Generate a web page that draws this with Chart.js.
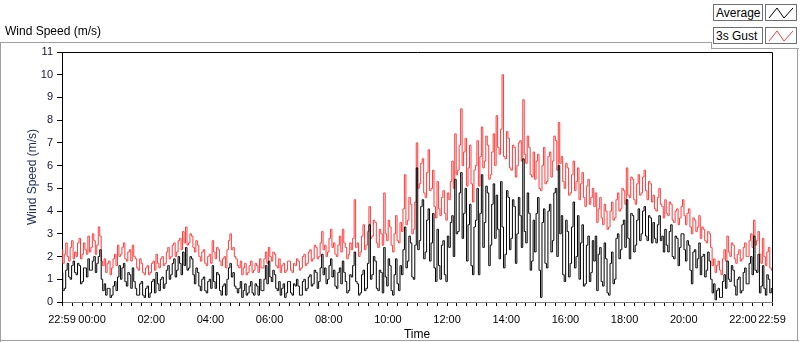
<!DOCTYPE html>
<html>
<head>
<meta charset="utf-8">
<script src="https://cdn.jsdelivr.net/npm/chart.js@4/dist/chart.umd.min.js"></script>
<style>
  body { margin: 0; background: #fff; font-family: "Liberation Sans", Arial, sans-serif; }
  #wrap { position: relative; width: 800px; height: 342px; overflow: hidden; }
  #c { position: absolute; left: 0; top: 0; }
  .ln { position: absolute; background: #a0a0a0; }
  #head { position: absolute; left: 5px; top: 24px; font-size: 12px; color: #000; }
  .lg { position: absolute; height: 17px; border: 1px solid #6e6e6e; background: #fff;
        font-size: 12px; line-height: 17px; padding: 0 2px; box-sizing: border-box; }
  .ic { position: absolute; width: 32px; height: 17px; border: 1px solid #6e6e6e; background: #fff; box-sizing: border-box; }
</style>
</head>
<body>
<div id="wrap">
  <canvas id="c" width="800" height="342"></canvas>
  <div id="head">Wind Speed (m/s)</div>
  <div class="ln" style="left:0;top:42px;width:712px;height:1px"></div>
  <div class="ln" style="left:711px;top:42px;width:1px;height:7px"></div>
  <div class="ln" style="left:711px;top:48px;width:88px;height:1px"></div>
  <div class="ln" style="left:0;top:42px;width:1px;height:300px"></div>
  <div class="ln" style="left:0;top:340px;width:799px;height:1px"></div>
  <div class="ln" style="left:797px;top:48px;width:1px;height:293px"></div>
  <div class="lg" style="left:713px;top:4px;width:50px">Average</div>
  <div class="ic" style="left:765px;top:4px">
    <svg width="30" height="15"><polyline points="3,13 11,3 18,13 27,3" fill="none" stroke="#000" stroke-width="1"/></svg>
  </div>
  <div class="lg" style="left:713px;top:27px;width:50px">3s Gust</div>
  <div class="ic" style="left:765px;top:27px">
    <svg width="30" height="15"><polyline points="3,13 11,3 18,13 27,3" fill="none" stroke="#ff3c3c" stroke-width="1"/></svg>
  </div>
</div>
<script>
// samples every 3 minutes, starting 22:59 (one row = 2 hours)
const sampleStepMin = 3;

const gustSpeed = [
  2.3,1.7,2.1,2.6,2.0,1.8,2.4,2.7,1.9,2.2,2.0,2.6,2.8,1.9,2.1,2.6,2.3,2.1,2.9,2.2,2.4,3.0,2.7,2.1,2.5,3.3,2.9,1.8,1.6,1.9,1.3,1.7,1.8,1.2,1.5,1.9,2.1,1.6,2.5,2.0,
  2.1,2.4,2.6,1.9,1.8,2.2,2.3,1.8,2.5,2.0,1.9,1.5,1.4,1.9,1.7,1.3,1.2,1.5,1.6,1.2,1.3,1.7,1.8,1.4,2.1,1.7,1.5,1.9,2.0,1.6,1.7,2.2,2.4,1.9,2.0,2.5,2.6,2.0,2.2,2.7,
  2.8,2.3,3.1,2.6,3.3,2.5,2.6,3.0,2.9,2.4,2.2,2.7,2.5,2.0,1.8,2.2,2.3,1.7,1.6,2.0,2.1,1.7,2.7,2.2,1.9,2.4,2.3,1.8,1.6,1.9,2.0,1.5,2.3,2.7,3.0,2.3,2.4,2.0,1.9,1.6,
  1.5,1.8,1.2,1.5,1.7,1.2,1.3,1.6,1.8,1.3,1.4,1.7,1.6,1.3,1.9,1.5,1.5,1.9,2.2,1.7,2.4,2.0,1.8,2.2,2.1,1.6,1.5,1.9,1.3,1.6,1.7,1.3,1.4,1.8,1.8,1.4,1.3,1.7,1.6,1.9,
  1.8,1.4,1.5,2.0,2.1,1.6,1.7,2.2,2.3,1.8,1.9,2.5,2.4,1.9,2.0,2.6,3.1,2.3,2.5,2.0,2.2,2.8,3.2,2.4,2.6,2.1,2.0,2.5,2.9,2.2,3.2,2.6,2.4,1.9,2.1,2.6,2.3,2.8,4.5,2.4,
  2.6,2.0,2.2,2.9,3.4,2.3,2.5,3.1,4.2,2.8,2.9,3.6,3.5,2.6,2.4,3.2,3.0,2.5,4.8,3.0,2.7,3.6,3.3,2.5,2.2,3.0,3.8,2.7,2.6,3.5,3.1,4.1,5.6,3.4,3.6,4.6,4.3,3.0,3.2,4.4,
  7.0,5.0,5.2,6.1,6.3,4.8,4.6,5.7,6.7,4.9,5.0,5.8,4.2,3.7,5.3,4.1,3.8,4.6,4.9,3.9,3.6,4.8,4.5,5.3,6.2,5.0,7.4,5.6,5.8,6.9,8.5,6.0,6.6,7.2,5.1,5.9,6.9,5.2,4.4,5.8,
  6.0,7.1,5.1,6.4,7.7,5.9,6.2,7.3,6.9,5.4,5.6,6.6,7.4,6.0,8.2,6.8,6.5,7.6,10.0,6.4,6.3,7.5,7.2,5.9,5.8,6.9,6.8,5.5,6.0,7.0,7.1,6.2,8.9,6.5,6.1,7.3,6.8,5.6,5.5,6.6,
  5.4,6.2,6.5,5.0,4.9,6.0,6.8,5.2,5.3,6.4,6.6,5.5,6.2,7.3,7.1,5.8,7.9,6.1,6.4,5.3,5.0,6.1,5.9,4.7,4.8,5.6,6.2,4.9,5.3,5.9,4.5,5.2,5.7,4.6,4.2,5.1,5.4,4.3,4.6,5.0,
  4.2,4.8,3.5,4.1,4.6,3.7,3.4,4.3,4.0,3.2,3.3,4.0,4.4,3.6,3.7,4.5,4.8,4.0,4.1,5.0,4.9,4.3,5.9,4.7,4.6,5.5,5.4,4.5,4.3,5.2,5.6,4.7,4.8,5.5,5.8,4.9,4.5,5.3,5.2,4.4,
  4.7,4.1,4.0,4.6,5.0,4.3,4.2,3.7,4.5,3.9,3.8,4.4,4.3,3.6,3.5,4.0,4.1,3.4,3.7,4.2,4.5,3.8,3.4,3.9,4.1,3.3,3.0,3.7,3.6,3.1,3.3,3.8,2.8,3.3,3.2,2.7,2.6,3.1,3.0,2.4,
  1.6,1.9,1.3,1.6,1.8,1.4,1.2,1.9,2.3,1.8,2.9,2.2,2.0,2.6,2.5,1.9,1.7,2.1,2.3,1.8,1.9,2.4,2.6,2.0,2.0,2.7,3.0,2.4,3.6,2.5,2.7,3.1,2.1,1.7,2.8,2.0,1.6,2.2,2.4,1.5,
  1.4
];

const avgSpeed = [
  1.3,0.5,0.6,1.4,1.7,1.1,1.0,1.6,1.8,1.3,1.2,1.7,1.6,0.8,0.9,1.5,1.5,1.1,1.9,1.4,1.4,1.8,2.0,1.3,1.7,2.0,2.3,1.0,0.5,0.8,0.3,0.6,0.6,0.2,0.3,0.7,0.9,0.5,1.1,1.6,
  1.0,1.5,1.7,0.9,0.7,1.3,1.2,0.6,1.5,0.9,0.6,0.3,0.3,0.8,0.9,0.3,0.2,0.6,0.7,0.2,0.4,0.9,1.0,0.4,1.3,0.8,0.5,1.0,1.1,0.6,0.8,1.4,1.6,1.0,1.2,1.7,1.9,1.1,1.4,2.0,
  1.7,1.2,2.2,1.6,2.4,1.4,1.5,2.0,1.9,1.2,0.8,1.5,1.3,0.7,0.5,1.0,1.1,0.5,0.4,0.9,1.0,0.6,1.6,0.9,0.6,1.3,1.2,0.5,0.3,0.7,0.8,0.3,1.0,1.5,1.7,1.1,1.3,0.7,0.6,0.4,
  0.6,0.9,0.2,0.5,0.8,0.3,0.4,0.7,0.9,0.4,0.3,0.8,0.7,0.3,1.0,0.5,0.5,1.0,1.6,0.8,1.8,1.1,0.9,1.4,1.2,0.6,0.5,0.9,0.3,0.6,0.8,0.2,0.4,0.9,0.9,0.4,0.3,0.8,0.7,1.0,
  0.7,0.3,0.3,0.9,1.0,0.5,0.6,1.1,1.2,0.7,0.8,1.4,1.3,0.6,0.9,1.5,2.1,1.2,1.5,0.8,1.0,1.6,1.9,1.1,1.4,0.7,0.6,1.3,1.5,0.8,1.8,1.3,0.9,0.4,0.5,1.2,1.1,1.6,2.2,0.9,
  0.8,0.3,0.4,1.2,1.4,0.5,0.6,1.7,3.4,1.0,1.2,2.0,1.8,0.6,0.5,1.4,1.3,0.4,2.4,1.1,0.7,1.9,1.6,0.5,0.3,1.2,1.9,0.8,0.5,1.6,1.2,2.3,3.3,1.5,1.8,2.9,2.6,1.1,1.0,2.5,
  5.9,2.3,2.7,4.2,4.5,1.9,2.2,3.6,4.1,1.8,2.6,3.9,1.5,0.9,3.2,1.6,1.0,2.5,2.7,1.2,0.9,2.9,2.4,3.5,3.8,2.0,5.4,3.0,3.1,4.8,5.7,2.8,3.9,5.0,1.8,3.4,4.3,1.6,1.2,3.3,
  3.6,5.0,1.2,3.9,5.6,2.4,3.5,5.1,4.8,1.6,2.5,4.3,5.2,2.8,4.7,3.2,1.9,5.3,3.3,1.5,2.1,4.9,4.6,2.3,2.8,4.5,4.2,1.7,3.0,4.6,3.8,2.4,6.3,3.1,2.6,4.8,3.9,1.4,1.8,3.6,
  2.2,3.9,4.6,1.4,0.2,3.5,4.1,1.7,1.5,4.0,4.3,2.2,2.7,4.8,5.0,2.0,6.0,3.0,3.8,1.2,0.9,3.6,3.1,1.1,1.7,3.3,4.4,1.5,2.0,3.8,1.0,2.6,3.4,0.7,0.8,2.5,2.9,0.9,1.3,2.7,
  1.8,2.9,0.5,2.1,2.4,0.9,0.7,2.6,1.9,0.4,0.3,1.7,2.2,0.8,1.0,2.8,3.0,1.9,2.3,3.4,3.6,2.4,4.5,2.8,1.9,3.9,3.8,2.2,2.5,3.6,4.1,2.7,3.0,4.0,4.2,2.9,2.7,3.8,3.7,2.6,
  3.5,2.8,2.6,3.4,3.8,2.7,2.9,2.2,3.2,2.5,2.2,3.1,3.4,2.0,1.9,2.9,2.8,1.6,2.4,3.0,3.0,2.3,1.8,2.7,2.5,1.4,0.8,2.2,2.3,1.5,1.9,2.6,1.2,2.0,2.1,1.1,1.4,2.2,1.8,1.0,
  0.4,0.8,0.1,0.5,0.6,0.2,0.2,0.9,1.2,0.6,1.8,1.0,0.9,1.6,1.4,0.7,0.3,1.0,1.1,0.4,0.5,1.3,1.5,0.8,0.8,1.7,2.0,1.2,2.9,1.4,1.3,2.1,0.4,0.7,1.6,0.6,0.3,1.2,1.0,0.4,
  0.6
];

// x axis: minutes since 22:59
const tickMinutes = [0, 61, 181, 301, 421, 541, 661, 781, 901, 1021, 1141, 1261, 1381, 1440];
const tickLabels = ["22:59", "00:00", "02:00", "04:00", "06:00", "08:00", "10:00", "12:00",
                    "14:00", "16:00", "18:00", "20:00", "22:00", "22:59"];
const minorStepMin = 20;

const toPoints = (arr) => arr.map((v, i) => ({ x: i * sampleStepMin, y: v }));

const allTicks = [0];
for (let m = 1; m <= 1440; m += minorStepMin) allTicks.push(m);
tickMinutes.forEach(m => { if (!allTicks.includes(m)) allTicks.push(m); });
allTicks.sort((a, b) => a - b);

const frameBorder = {
  id: "frameBorder",
  afterDraw(chart) {
    const { ctx, chartArea } = chart;
    ctx.save();
    ctx.strokeStyle = "#000";
    ctx.lineWidth = 1;
    ctx.beginPath();
    ctx.moveTo(chartArea.left, chartArea.top + 0.5);
    ctx.lineTo(chartArea.right + 0.5, chartArea.top + 0.5);
    ctx.lineTo(chartArea.right + 0.5, chartArea.bottom);
    ctx.stroke();
    ctx.restore();
  }
};

new Chart(document.getElementById("c"), {
  type: "line",
  data: {
    datasets: [
      {
        label: "Average",
        data: toPoints(avgSpeed),
        borderColor: "#000000",
        borderWidth: 1,
        pointRadius: 0,
        stepped: "middle"
      },
      {
        label: "3s Gust",
        data: toPoints(gustSpeed),
        borderColor: "#ff3c3c",
        borderWidth: 1,
        pointRadius: 0,
        stepped: "middle"
      }
    ]
  },
  options: {
    responsive: false,
    animation: false,
    layout: { padding: { left: 21, top: 52, right: 28, bottom: 0 } },
    plugins: {
      legend: { display: false },
      tooltip: { enabled: false }
    },
    scales: {
      x: {
        type: "linear",
        min: 0,
        max: 1440,
        afterFit: (s) => { s.height = 40; },
        afterBuildTicks: (s) => { s.ticks = allTicks.map(v => ({ value: v })); },
        ticks: {
          autoSkip: false,
          maxRotation: 0,
          minRotation: 0,
          padding: 7,
          color: "#000",
          font: { family: "Liberation Sans", size: 11 },
          callback: (v) => {
            const k = tickMinutes.indexOf(v);
            return k >= 0 ? tickLabels[k] : "";
          }
        },
        grid: { drawOnChartArea: false, tickLength: 4, color: "#000" },
        border: { color: "#808080" },
        title: {
          display: true,
          text: "Time",
          color: "#000",
          font: { family: "Liberation Sans", size: 12 },
          padding: { top: 0, bottom: 0 }
        }
      },
      y: {
        min: 0,
        max: 11,
        afterFit: (s) => { s.width = 41; },
        ticks: {
          stepSize: 1,
          padding: 4,
          color: "#14143c",
          font: { family: "Liberation Sans", size: 11 }
        },
        grid: { drawOnChartArea: false, tickLength: 5, color: "#000" },
        border: { color: "#000" },
        title: {
          display: true,
          text: "Wind Speed (m/s)",
          color: "#1a2a5a",
          font: { family: "Liberation Sans", size: 12 },
          padding: { top: 4, bottom: 4 }
        }
      }
    }
  },
  plugins: [frameBorder]
});
</script>
</body>
</html>
